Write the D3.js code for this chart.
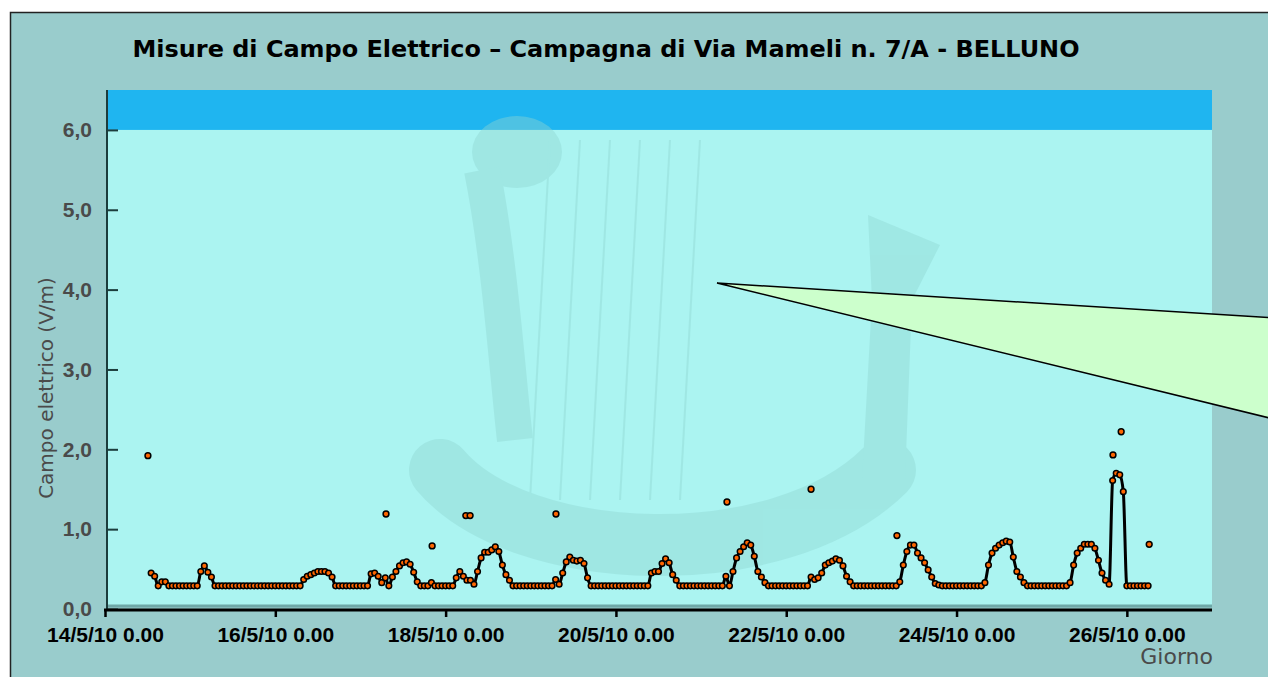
<!DOCTYPE html>
<html>
<head>
<meta charset="utf-8">
<script src="https://cdn.jsdelivr.net/npm/d3@7"></script>
<style>
  body { margin: 0; background: #fff; }
  svg { display: block; }
</style>
</head>
<body>
<svg id="graf"></svg>
<script>
// giorni con etichetta sull'asse x (maggio 2010)
const giorniTick = [14, 16, 18, 20, 22, 24, 26]
const yTick = [0, 1, 2, 3, 4, 5, 6]

// misure orarie, prima misura il 14/5/10 alle 13.00
const oraInizio = 13
const campo = [
  0.45, 0.41, 0.29, 0.34, 0.34, 0.29, 0.29, 0.29, 0.29, 0.29, 0.29, 0.29,
  0.29, 0.29, 0.47, 0.54, 0.46, 0.40, 0.29, 0.29, 0.29, 0.29, 0.29, 0.29,
  0.29, 0.29, 0.29, 0.29, 0.29, 0.29, 0.29, 0.29, 0.29, 0.29, 0.29, 0.29,
  0.29, 0.29, 0.29, 0.29, 0.29, 0.29, 0.29, 0.37, 0.41, 0.43, 0.45, 0.47,
  0.47, 0.47, 0.45, 0.40, 0.29, 0.29, 0.29, 0.29, 0.29, 0.29, 0.29, 0.29,
  0.29, 0.29, 0.44, 0.45, 0.41, 0.33, 0.39, 0.29, 0.40, 0.47, 0.54, 0.58,
  0.59, 0.56, 0.46, 0.34, 0.29, 0.29, 0.29, 0.33, 0.29, 0.29, 0.29, 0.29,
  0.29, 0.29, 0.39, 0.47, 0.41, 0.36, 0.36, 0.31, 0.47, 0.64, 0.71, 0.71,
  0.74, 0.78, 0.72, 0.55, 0.43, 0.36, 0.29, 0.29, 0.29, 0.29, 0.29, 0.29,
  0.29, 0.29, 0.29, 0.29, 0.29, 0.29, 0.37, 0.31, 0.45, 0.59, 0.65, 0.61,
  0.60, 0.61, 0.57, 0.39, 0.29, 0.29, 0.29, 0.29, 0.29, 0.29, 0.29, 0.29,
  0.29, 0.29, 0.29, 0.29, 0.29, 0.29, 0.29, 0.29, 0.29, 0.45, 0.47, 0.47,
  0.57, 0.63, 0.58, 0.43, 0.36, 0.29, 0.29, 0.29, 0.29, 0.29, 0.29, 0.29,
  0.29, 0.29, 0.29, 0.29, 0.29, 0.29, 0.41, 0.29, 0.47, 0.64, 0.72, 0.78,
  0.83, 0.80, 0.66, 0.47, 0.40, 0.33, 0.29, 0.29, 0.29, 0.29, 0.29, 0.29,
  0.29, 0.29, 0.29, 0.29, 0.29, 0.29, 0.40, 0.37, 0.39, 0.45, 0.55, 0.58,
  0.60, 0.63, 0.61, 0.54, 0.41, 0.34, 0.29, 0.29, 0.29, 0.29, 0.29, 0.29,
  0.29, 0.29, 0.29, 0.29, 0.29, 0.29, 0.29, 0.34, 0.55, 0.72, 0.80, 0.80,
  0.70, 0.64, 0.58, 0.49, 0.40, 0.32, 0.30, 0.29, 0.29, 0.29, 0.29, 0.29,
  0.29, 0.29, 0.29, 0.29, 0.29, 0.29, 0.29, 0.33, 0.55, 0.70, 0.76, 0.80,
  0.83, 0.85, 0.84, 0.65, 0.47, 0.40, 0.33, 0.29, 0.29, 0.29, 0.29, 0.29,
  0.29, 0.29, 0.29, 0.29, 0.29, 0.29, 0.29, 0.33, 0.55, 0.70, 0.76, 0.81,
  0.81, 0.81, 0.76, 0.61, 0.45, 0.36, 0.31, 1.61, 1.70, 1.68, 1.47, 0.29,
  0.29, 0.29, 0.29, 0.29, 0.29, 0.29
]

// valori isolati (solo punti), ore dal 14/5/10 0.00
const picchiOre = [12.1, 79.2, 92.2, 101.7, 102.9, 127.1, 175.3, 199.0, 223.2, 284.1, 286.4, 294.3]
const picchiValori = [1.92, 1.19, 0.79, 1.17, 1.17, 1.19, 1.34, 1.50, 0.92, 1.93, 2.22, 0.81]

function graficar() {
  let w = 1268
  let h = 677
  let svg = d3.select('#graf').attr('width', w).attr('height', h)

  let t0 = new Date(2010, 4, 14).getTime()
  let ora = o => new Date(t0 + o * 3600e3)

  let x = d3.scaleTime()
    .domain([new Date(2010, 4, 14), new Date(2010, 4, 27)])
    .range([105, 1212])
  let y = d3.scaleLinear().domain([0, 6.5]).range([609, 90])

  let it = d3.formatLocale({decimal: ',', thousands: '.', grouping: [3], currency: ['', ' €']})

  // sfondo diapositiva
  svg.append('rect')
    .attr('x', 10.5).attr('y', 12.5)
    .attr('width', 1300).attr('height', 700)
    .style('fill', '#99cccc')
    .style('stroke', '#222')
    .style('stroke-width', 1.5)

  // area del grafico
  svg.append('rect')
    .attr('x', 107).attr('y', y(6.5))
    .attr('width', 1212 - 107).attr('height', y(0) - y(6.5) - 2)
    .style('fill', '#abf4f1')
  svg.append('rect')
    .attr('x', 107).attr('y', y(6.5))
    .attr('width', 1212 - 107).attr('height', y(6) - y(6.5))
    .style('fill', '#1fb5f0')
  svg.append('line')
    .attr('x1', 107).attr('x2', 1212)
    .attr('y1', y(0) - 3).attr('y2', y(0) - 3)
    .style('stroke', '#6fa8a8').style('stroke-width', 3)

  // arpa in filigrana
  let fil = svg.append('g').style('opacity', 0.42)
  fil.append('ellipse')
    .attr('cx', 517).attr('cy', 152).attr('rx', 45).attr('ry', 36)
    .style('fill', '#8fd6d2')
  fil.append('path')
    .attr('d', 'M 482 170 C 500 260 508 380 515 440')
    .style('fill', 'none').style('stroke', '#8fd6d2').style('stroke-width', 36)
  fil.append('path')
    .attr('d', 'M 440 470 C 520 565 780 575 885 470')
    .style('fill', 'none').style('stroke', '#8fd6d2')
    .style('stroke-width', 62).style('stroke-linecap', 'round')
  fil.append('path')
    .attr('d', 'M 868 215 L 940 245 L 912 300 L 905 480 L 862 480 L 872 300 Z')
    .style('fill', '#8fd6d2')
  let corde = [545, 575, 605, 635, 665, 695]
  fil.selectAll('line.corda')
    .data(corde)
    .enter()
    .append('line')
    .attr('class', 'corda')
    .attr('x1', d => d + 5).attr('y1', 140)
    .attr('x2', d => d - 15).attr('y2', 500)
    .style('stroke', '#8fd6d2').style('stroke-width', 2)

  // fumetto
  svg.append('path')
    .attr('d', 'M 1290 319 L 717 283 L 1290 423')
    .style('fill', '#ccffcc')
    .style('stroke', '#000')
    .style('stroke-width', 1.5)

  // titolo
  svg.append('text')
    .text('Misure di Campo Elettrico \u2013 Campagna di Via Mameli n. 7/A - BELLUNO')
    .attr('x', 606).attr('y', 57)
    .attr('text-anchor', 'middle')
    .attr('textLength', 947)
    .attr('lengthAdjust', 'spacingAndGlyphs')
    .style('font-family', 'DejaVu Sans Condensed, DejaVu Sans, sans-serif')
    .style('font-weight', 'bold')
    .style('font-size', '23px')
    .style('fill', '#000')

  // asse y
  let ay = svg.append('g').attr('transform', 'translate(107,0)')
  ay.call(d3.axisLeft(y).tickValues(y.ticks(13)).tickSize(-8).tickFormat(''))
  ay.call(d3.axisLeft(y).tickValues(yTick).tickSize(-11).tickPadding(15).tickFormat(it.format('.1f')))
  ay.selectAll('.domain').remove()
  ay.selectAll('line').style('stroke', '#1c3c3c').style('stroke-width', 2)
  ay.selectAll('text')
    .style('font-family', 'Liberation Sans, Arial, sans-serif')
    .style('font-weight', 'bold')
    .style('font-size', '21px')
    .style('fill', '#4a4a4a')
  svg.append('line')
    .attr('x1', 107).attr('x2', 107)
    .attr('y1', y(6.5)).attr('y2', y(0))
    .style('stroke', '#1c3c3c').style('stroke-width', 2)

  // asse x
  let ax = svg.append('g').attr('transform', 'translate(0,' + (y(0) + 1) + ')')
  ax.call(d3.axisBottom(x)
    .tickValues(giorniTick.map(g => new Date(2010, 4, g)))
    .tickSize(7).tickPadding(10)
    .tickFormat(d3.timeFormat('%-d/%-m/%y %-H.%M')))
  ax.selectAll('.domain').remove()
  ax.selectAll('line').style('stroke', '#000').style('stroke-width', 2.5)
  ax.selectAll('text')
    .style('font-family', 'Liberation Sans, Arial, sans-serif')
    .style('font-weight', 'bold')
    .style('font-size', '21px')
    .style('fill', '#000')
  svg.append('line')
    .attr('x1', 104).attr('x2', 1212)
    .attr('y1', y(0) + 1).attr('y2', y(0) + 1)
    .style('stroke', '#000').style('stroke-width', 3)

  // titoli assi
  svg.append('text')
    .text('Campo elettrico (V/m)')
    .attr('transform', 'translate(53,388) rotate(-90)')
    .attr('text-anchor', 'middle')
    .style('font-family', 'DejaVu Sans, sans-serif')
    .style('font-size', '20px')
    .style('fill', '#4a4a4a')
  svg.append('text')
    .text('Giorno')
    .attr('x', 1213).attr('y', 664)
    .attr('text-anchor', 'end')
    .style('font-family', 'DejaVu Sans, sans-serif')
    .style('font-size', '22px')
    .style('fill', '#4a4a4a')

  // serie
  let punti = campo.map((v, i) => ({t: ora(oraInizio + i), v: v}))
  let linea = d3.line().x(d => x(d.t)).y(d => y(d.v)).curve(d3.curveMonotoneX)
  svg.append('path')
    .datum(punti)
    .attr('d', linea)
    .style('fill', 'none')
    .style('stroke', '#000')
    .style('stroke-width', 3)
    .style('stroke-linejoin', 'round')

  svg.selectAll('circle.misura')
    .data(punti)
    .enter()
    .append('circle')
    .attr('class', 'misura')
    .attr('cx', d => x(d.t))
    .attr('cy', d => y(d.v))
    .attr('r', 2.8)
    .style('fill', '#ff6600')
    .style('stroke', '#000')
    .style('stroke-width', 1.5)

  let picchi = picchiOre.map((o, i) => ({t: ora(o), v: picchiValori[i]}))
  svg.selectAll('circle.picco')
    .data(picchi)
    .enter()
    .append('circle')
    .attr('class', 'picco')
    .attr('cx', d => x(d.t))
    .attr('cy', d => y(d.v))
    .attr('r', 2.9)
    .style('fill', '#ff6600')
    .style('stroke', '#000')
    .style('stroke-width', 1.5)
}

graficar()
</script>
</body>
</html>
